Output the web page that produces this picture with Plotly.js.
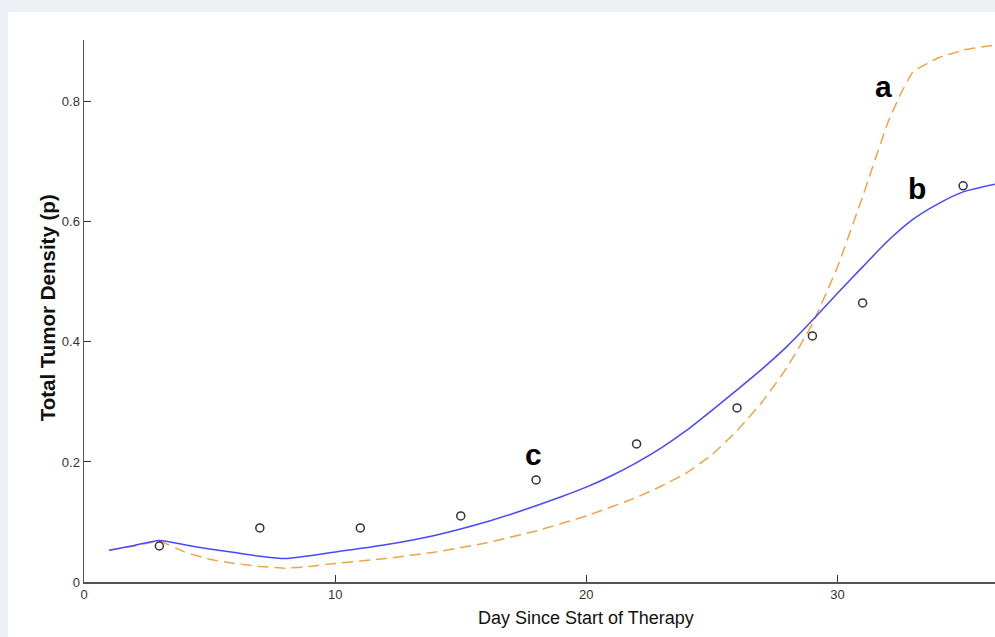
<!DOCTYPE html>
<html>
<head>
<meta charset="utf-8">
<script src="https://cdn.plot.ly/plotly-3.0.1.min.js"></script>
<style>
  html, body { margin: 0; padding: 0; background: #eff0f5; }
  #chart { width: 995px; height: 637px; }
</style>
</head>
<body>
<div id="chart"></div>
<script>
// Observed data (circles)
const obsDay = [3, 7, 11, 15, 18, 22, 26, 29, 31, 35];
const obsDensity = [0.06, 0.09, 0.09, 0.11, 0.17, 0.23, 0.29, 0.41, 0.465, 0.66];

// Curve a (orange dashed)
const aDay = [1, 2, 3, 4, 5, 6, 7, 8, 9, 10, 12, 14, 16, 18, 20, 22, 23, 24, 25, 26, 27, 28, 29, 30, 31, 32, 32.5, 33, 34, 35, 36.3];
const aDensity = [0.053, 0.060, 0.068, 0.050, 0.038, 0.031, 0.026, 0.023, 0.026, 0.031, 0.039, 0.050, 0.065, 0.085, 0.110, 0.141, 0.160, 0.182, 0.212, 0.252, 0.300, 0.358, 0.430, 0.525, 0.642, 0.765, 0.812, 0.850, 0.873, 0.886, 0.895];

// Curve b (blue solid)
const bDay = [1, 2, 3, 4, 5, 6, 7, 8, 10, 12, 14, 16, 17, 18, 19, 20, 21, 22, 23, 24, 25, 26, 27, 28, 29, 30, 31, 32, 33, 34, 35, 36.3];
const bDensity = [0.053, 0.061, 0.069, 0.062, 0.055, 0.049, 0.043, 0.039, 0.050, 0.062, 0.078, 0.100, 0.113, 0.127, 0.142, 0.158, 0.177, 0.199, 0.224, 0.253, 0.286, 0.320, 0.355, 0.393, 0.436, 0.481, 0.525, 0.568, 0.604, 0.630, 0.650, 0.663];

// Curve labels
const labelText = ['a', 'b', 'c'];
const labelDay = [31.85, 33.15, 17.9];
const labelDensity = [0.826, 0.656, 0.212];

const xTicks = [0, 10, 20, 30];
const yTicks = [0, 0.2, 0.4, 0.6, 0.8];

const xTitle = 'Day Since Start of Therapy';
const yTitle = 'Total Tumor Density (p)';

const FONT = '"Liberation Sans", Arial, sans-serif';

const traces = [
  {
    x: aDay, y: aDensity, type: 'scatter', mode: 'lines',
    line: { color: 'rgb(242,163,72)', width: 1.5, dash: '11px,6px', shape: 'spline', smoothing: 0.3 },
    hoverinfo: 'skip'
  },
  {
    x: bDay, y: bDensity, type: 'scatter', mode: 'lines',
    line: { color: 'rgb(72,72,255)', width: 1.5, shape: 'spline', smoothing: 0.6 },
    hoverinfo: 'skip'
  },
  {
    x: obsDay, y: obsDensity, type: 'scatter', mode: 'markers',
    marker: { symbol: 'circle-open', size: 8, color: '#333', line: { width: 1.5, color: '#333' } },
    hoverinfo: 'skip'
  }
];

const annotations = labelText.map((t, i) => ({
  x: labelDay[i], y: labelDensity[i], xref: 'x', yref: 'y',
  text: '<b>' + t + '</b>', showarrow: false,
  font: { family: FONT, size: 30, color: '#000' },
  xanchor: 'center', yanchor: 'middle'
}));

annotations.push({
  x: 0.5505, y: -0.0655, xref: 'paper', yref: 'paper',
  text: xTitle, showarrow: false,
  font: { family: FONT, size: 18, color: '#111' },
  xanchor: 'center', yanchor: 'middle'
});
annotations.push({
  x: -0.0406, y: 0.505, xref: 'paper', yref: 'paper',
  text: '<b>' + yTitle + '</b>', showarrow: false, textangle: -90,
  font: { family: FONT, size: 20.5, color: '#111' },
  xanchor: 'center', yanchor: 'middle'
});

const layout = {
  width: 995, height: 637,
  margin: { l: 84, r: 0, t: 40, b: 55 },
  paper_bgcolor: '#eff0f5',
  plot_bgcolor: '#ffffff',
  showlegend: false,
  font: { family: FONT, color: '#333' },
  shapes: [{
    type: 'rect', xref: 'paper', yref: 'paper',
    x0: -0.0834, x1: 1.02, y0: -0.2, y1: 1.0517,
    fillcolor: '#ffffff', line: { width: 0 }, layer: 'below'
  }],
  xaxis: {
    range: [0, 36.27], showgrid: false, zeroline: false,
    showline: true, linecolor: '#555', linewidth: 1.5,
    ticks: 'inside', ticklen: 7, tickcolor: '#333', tickwidth: 1,
    tickvals: xTicks, ticktext: xTicks.map(String),
    tickfont: { family: FONT, size: 13, color: '#333' }
  },
  yaxis: {
    range: [0, 0.903], showgrid: false, zeroline: false,
    showline: true, linecolor: '#555', linewidth: 1.5,
    ticks: 'inside', ticklen: 7, tickcolor: '#333', tickwidth: 1,
    tickvals: yTicks, ticktext: yTicks.map(v => v === 0 ? '0' : v.toFixed(1)),
    tickfont: { family: FONT, size: 13, color: '#333' }
  },
  annotations: annotations
};

Plotly.newPlot('chart', traces, layout, { displayModeBar: false, staticPlot: true });
</script>
</body>
</html>
